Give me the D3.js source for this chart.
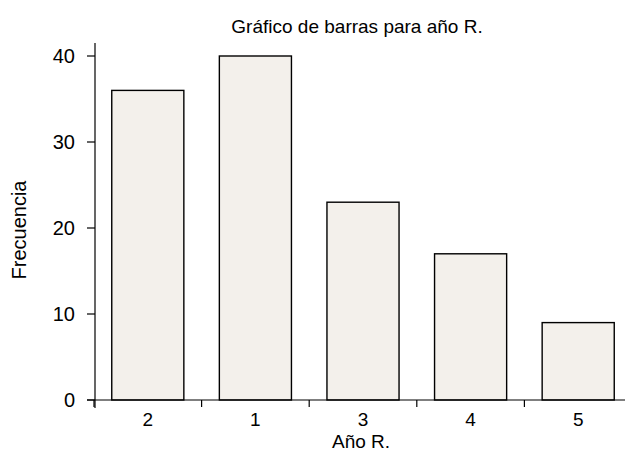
<!DOCTYPE html>
<html><head><meta charset="utf-8">
<script src="https://cdn.jsdelivr.net/npm/d3@7"></script>
<style>body{margin:0;background:#fff}svg{display:block}text{font-family:"Liberation Sans",Arial,sans-serif;fill:#000}</style>
</head><body>
<svg id="c" width="625" height="453"></svg>
<script>
const categories = ["2","1","3","4","5"];
const values = [36, 40, 23, 17, 9];
const yTicks = [0, 10, 20, 30, 40];
const title = "Gráfico de barras para año R.";
const xLabel = "Año R.";
const yLabel = "Frecuencia";

const svg = d3.select("#c");
const x0 = 94, step = 107.6;
const x = d3.scaleBand().domain(categories).range([x0, x0 + step*categories.length]).paddingInner(0.33).paddingOuter(0.165);
const y = d3.scaleLinear().domain([0, 40]).range([400, 56]);

svg.append("g").selectAll("rect").data(values).join("rect")
  .attr("x", (d,i)=>x(categories[i])).attr("width", x.bandwidth())
  .attr("y", d=>y(d)).attr("height", d=>y(0)-y(d))
  .attr("fill", "#f3f0eb").attr("stroke", "#000").attr("stroke-width", 1.4);

svg.append("line").attr("x1", 87).attr("x2", 625).attr("y1", y(0)).attr("y2", y(0)).attr("stroke","#000").attr("stroke-width",1.2);
const bounds = categories.map(c => x(c) - x.step()*x.paddingInner()/2);
svg.append("g").selectAll("line").data(bounds).join("line")
  .attr("x1", d=>d).attr("x2", d=>d).attr("y1", y(0)).attr("y2", y(0)+7)
  .attr("stroke","#000").attr("stroke-width",1.2);
svg.append("g").selectAll("text").data(categories).join("text")
  .attr("x", d=>x(d)+x.bandwidth()/2).attr("y", 426).attr("text-anchor","middle")
  .attr("font-size", 19).text(d=>d);

const ax = 95;
svg.append("line").attr("x1", ax).attr("x2", ax).attr("y1", 43).attr("y2", 408).attr("stroke","#000").attr("stroke-width",1.2);
svg.append("g").selectAll("line").data(yTicks).join("line")
  .attr("x1", ax-8).attr("x2", ax).attr("y1", d=>y(d)).attr("y2", d=>y(d))
  .attr("stroke","#000").attr("stroke-width",1.2);
svg.append("g").selectAll("text").data(yTicks).join("text")
  .attr("x", 75).attr("y", d=>y(d)).attr("dy","0.35em").attr("text-anchor","end")
  .attr("font-size", 20).text(d=>d);

svg.append("text").attr("x", 357).attr("y", 33).attr("text-anchor","middle").attr("font-size", 19).text(title);
svg.append("text").attr("x", 361).attr("y", 448).attr("text-anchor","middle").attr("font-size", 19).text(xLabel);
svg.append("text").attr("transform","translate(26,230) rotate(-90)").attr("text-anchor","middle").attr("font-size", 20).text(yLabel);
</script>
</body></html>
